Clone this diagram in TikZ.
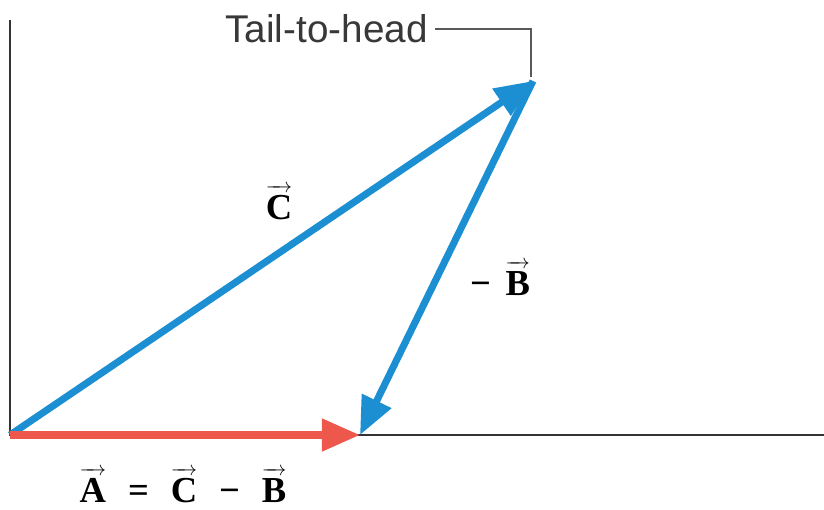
\documentclass[tikz,border=0pt]{standalone}
\usepackage{fontspec}
\setmainfont{Liberation Serif}
\newfontfamily\labelsans{Liberation Sans}
\usepackage{tikz}
\usetikzlibrary{arrows.meta,positioning,calc}
\definecolor{vecblue}{RGB}{27,143,210}
\definecolor{vecred}{RGB}{238,88,76}
\newsavebox\vletter
\newcommand{\vlabel}[1]{\sbox\vletter{#1}\vbox{\offinterlineskip
  \hbox to\wd\vletter{\fontsize{15}{15}\selectfont\rightarrowfill}%
  \kern1.5pt\copy\vletter}}

\begin{document}
\begin{tikzpicture}[
  x=0.025cm, y=0.025cm,
  axis/.style={draw=black!80, line width=2.1pt},
  vecarr/.style={line width=5pt, -{Triangle[length=9.5mm, width=7.8mm]}},
  lead/.style={draw=black!65, line width=1.3pt},
  vname/.style={font=\fontsize{26}{30}\selectfont\bfseries, inner sep=0pt,
    anchor=base},
  callout/.style={font=\fontsize{27.5}{32}\selectfont\labelsans,
    text=black!78, inner sep=0pt, inner xsep=1.8mm, anchor=base east},
]
\useasboundingbox (0,0) rectangle (824,509);
\coordinate (O) at (10,74);
\coordinate (Atip) at (360,74);
\coordinate (Ctip) at (533,428);
\coordinate (Ytop) at (10,489);
\coordinate (Xend) at (824,74);
% axes
\draw[axis] (Ytop) -- (O) -- (Xend);
% callout
\node[callout] (tth) at (435,466) {Tail-to-head};
\draw[lead] (tth.east) -| ([shift={(-2,4)}]Ctip);
% vectors
\draw[vecarr, vecblue] (O) -- (Ctip);
\draw[vecarr, vecred] (O) -- (Atip);
\draw[vecarr, vecblue] (Ctip) -- (Atip);
% labels
\node[vname] (Clab) at (279,290) {\vlabel{C}};
\node[vname] (Blab) at (500,214) {−\hspace{.4em}\vlabel{B}};
\node[vname] (eqn) at (183,7)
  {\vlabel{A}\hspace{.6em}=\hspace{.6em}\vlabel{C}\hspace{.6em}−\hspace{.6em}\vlabel{B}};
\end{tikzpicture}
\end{document}
